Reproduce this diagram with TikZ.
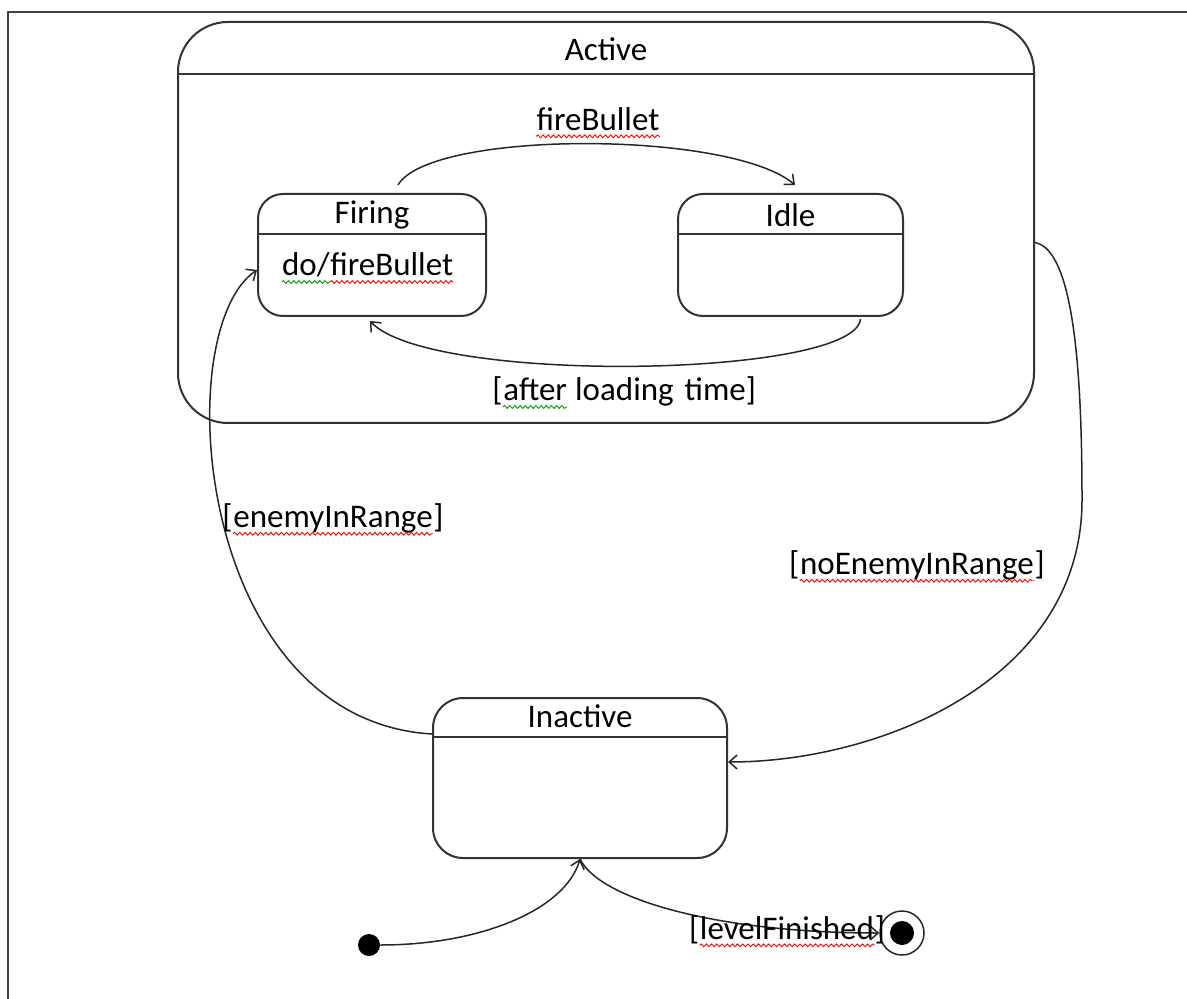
\documentclass[tikz,border=0pt]{standalone}
\usepackage{fontspec}
\setmainfont{Carlito}
\usetikzlibrary{arrows.meta, calc, decorations.pathmorphing}

\tikzset{
  statebox/.style={draw=black!80, line width=1pt, rounded corners=12.5pt, inner sep=0pt},
  headline/.style={draw=black!80, line width=1pt},
  trans/.style={draw=black!85, line width=0.75pt, -{Straight Barb[length=4pt, width=7pt]}},
  lbl/.style={font=\fontsize{16.5}{19}\selectfont, inner sep=1pt},
  word/.style={font=\fontsize{16.5}{19}\selectfont, inner sep=0pt},
  wave/.style={decorate, decoration={snake, amplitude=0.7pt, segment length=2.6pt}, line width=0.45pt},
}

\begin{document}
\begin{tikzpicture}[x=0.5pt, y=-0.5pt]
  \useasboundingbox (0,0) rectangle (1187,999);
  % frame
  \draw[black!75, line width=1pt] (8,999) -- (8,12) -- (1187,12);

  % composite state
  \node[statebox, rounded corners=25pt, minimum width=428pt, minimum height=200.5pt] (active) at (606,222.5) {};
  \draw[headline] ($(active.north west)+(0,53)$) -- ($(active.north east)+(0,53)$);
  \node[lbl] (activetitle) at ($(active.north)+(0,28)$) {Active};

  % inner states
  \node[statebox, minimum width=114pt, minimum height=61pt] (firing) at (372,255) {};
  \draw[headline] ($(firing.north west)+(0,41)$) -- ($(firing.north east)+(0,41)$);
  \node[lbl] (firingtitle) at ($(firing.north)+(0,22)$) {Firing};
  \node[word, anchor=base east] (firingdo) at (330,276) {do/};
  \node[word, anchor=base west] (firingbullet) at (firingdo.base east) {fireBullet};
  \draw[wave, green!60!black] ($(firingdo.base west)+(0,6)$) -- ($(firingdo.base east)+(0,6)$);
  \draw[wave, red] ($(firingbullet.base west)+(0,6)$) -- ($(firingbullet.base east)+(0,6)$);

  \node[statebox, minimum width=112.5pt, minimum height=61pt] (idle) at (790.5,255) {};
  \draw[headline] ($(idle.north west)+(0,41)$) -- ($(idle.north east)+(0,41)$);
  \node[lbl] (idletitle) at ($(idle.north)+(0,22)$) {Idle};

  \node[statebox, rounded corners=15pt, minimum width=147pt, minimum height=80pt] (inactive) at (580,778) {};
  \draw[headline] ($(inactive.north west)+(0,40)$) -- ($(inactive.north east)+(0,40)$);
  \node[lbl] (inactivetitle) at ($(inactive.north)+(0,19)$) {Inactive};

  % pseudo states
  \node[circle, fill=black, minimum size=11pt, inner sep=0pt] (init) at (369,945) {};
  \node[circle, draw=black!85, line width=0.75pt, minimum size=22pt, inner sep=0pt] (final) at (902,933) {};
  \node[circle, fill=black, minimum size=12pt, inner sep=0pt] (finaldot) at (final) {};

  % transitions
  \draw[trans] ($(firing.north)+(26,-8)$) .. controls (430,130) and (730,130) .. ($(idle.north)+(4.5,-8)$);
  \node[word] (lblfire) at (598,119) {fireBullet};
  \draw[wave, red] ($(lblfire.base west)+(0,6)$) -- ($(lblfire.base east)+(0,6)$);

  \draw[trans] ($(idle.south)+(70,2)$) .. controls (855,378) and (430,385) .. ($(firing.south)+(-2,4)$);
  \node[word, anchor=base west] (lblafter) at (503,401) {after};
  \node[word, anchor=base east] (lblafterl) at (lblafter.base west) {[};
  \node[word, anchor=base west] (lblafterr) at (lblafter.base east) {\ loading\,\,time]};
  \draw[wave, green!60!black] ($(lblafter.base west)+(0,6)$) -- ($(lblafter.base east)+(0,6)$);

  \draw[trans] ($(inactive.north west)+(0,37)$) .. controls (195,720) and (168,330) .. ($(firing.west)+(0,15)$);
  \node[word] (lblenemy) at (333,520) {enemyInRange};
  \node[word, anchor=base east] (lblenemyl) at (lblenemy.base west) {[};
  \node[word, anchor=base west] (lblenemyr) at (lblenemy.base east) {]};
  \draw[wave, red] ($(lblenemy.base west)+(0,6)$) -- ($(lblenemy.base east)+(0,6)$);

  \coordinate (rightbend) at (1082,500);
  \draw[trans] ($(active.east)+(0,20)$) .. controls (1075,250) and (1082,380) .. (rightbend)
    .. controls (1082,680) and (880,762) .. ($(inactive.east)+(0,-16)$);
  \node[word] (lblnoenemy) at (917,567) {noEnemyInRange};
  \node[word, anchor=base east] (lblnoenemyl) at (lblnoenemy.base west) {[};
  \node[word, anchor=base west] (lblnoenemyr) at (lblnoenemy.base east) {]};
  \draw[wave, red] ($(lblnoenemy.base west)+(0,6)$) -- ($(lblnoenemy.base east)+(0,6)$);

  \draw[trans] (init.east) .. controls (480,945) and (565,910) .. (inactive.south);
  \draw[trans] (inactive.south) .. controls (600,900) and (720,933) .. (final.west);
  \node[word] (lbllevel) at (787,928) {levelFinished};
  \node[word, anchor=base east] (lbllevell) at (lbllevel.base west) {[};
  \node[word, anchor=base west] (lbllevelr) at (lbllevel.base east) {]};
  \draw[wave, red] ($(lbllevel.base west)+(0,6)$) -- ($(lbllevel.base east)+(0,6)$);
\end{tikzpicture}
\end{document}
